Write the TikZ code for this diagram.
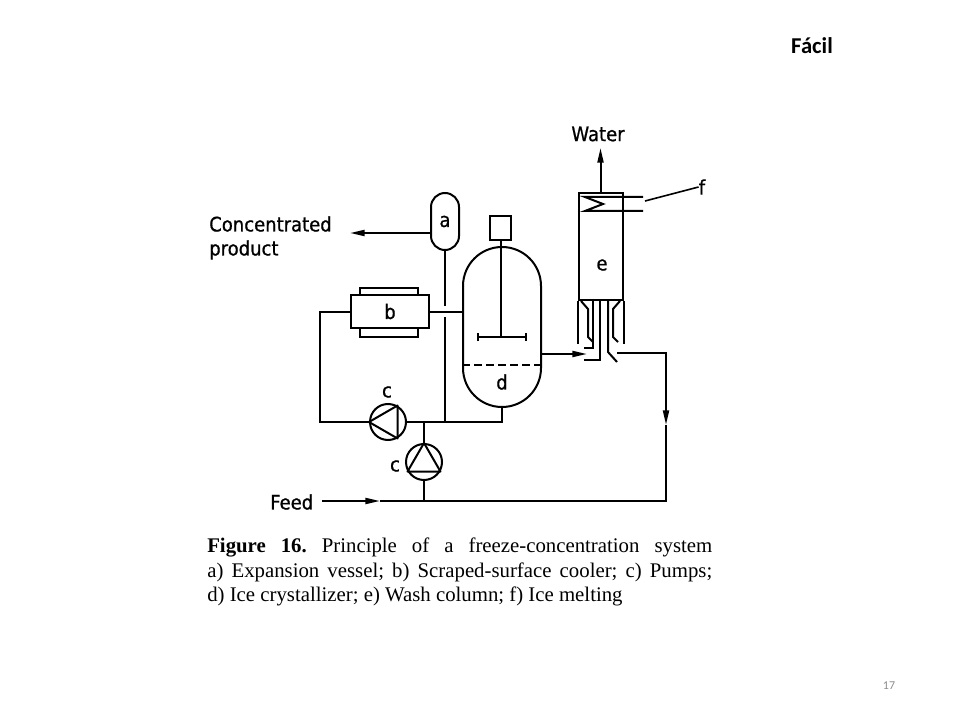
\documentclass[tikz,border=0pt]{standalone}
\usepackage{fontspec}
\setmainfont{Liberation Serif}
\newfontfamily\dinfont[FakeStretch=0.9,FakeBold=0.8]{DejaVu Sans}
\newfontfamily\calfont{Carlito}
\usepackage{tikz}
\usetikzlibrary{arrows.meta}
\usetikzlibrary{calc}
\tikzstyle{pipehead}=[>/.tip={Triangle[length=11pt,width=4.5pt]},|/.tip={Bar[width=6pt]}]
\tikzstyle{pipe}=[line width=1.5pt,pipehead]
\tikzstyle{vesselbox}=[draw,line width=1.5pt,inner sep=0pt]
\tikzstyle{pump}=[vesselbox,circle,minimum size=27pt]
\tikzstyle{lbl}=[font=\dinfont\fontsize{15}{18}\selectfont,inner sep=0pt]
\begin{document}
\begin{tikzpicture}[x=0.75pt,y=-0.75pt]
  \useasboundingbox (0,0) rectangle (960,720);
  \node[font=\calfont\bfseries\fontsize{17}{20}\selectfont] (title) at (812,46) {Fácil};
  \node[font=\calfont\fontsize{9}{11}\selectfont,text=black!45] (page) at (889,686) {17};
  % vessels
  \node[vesselbox,lbl,rounded corners=10.5pt,minimum width=21pt,minimum height=42.75pt] (expv) at (445,221.5) {a};
  \node[vesselbox,lbl,minimum width=58.5pt,minimum height=24.75pt] (cool) at (390,311.5) {b};
  \draw[pipe] (360,295) rectangle (418,288);
  \draw[pipe] (360,328) rectangle (418,337);
  \node[vesselbox,rounded corners=29.25pt,minimum width=58.5pt,minimum height=120pt] (cryst) at (502,327) {};
  \node[lbl] (lblD) at (502,382) {d};
  \draw[pipe,dash pattern=on 6pt off 3pt] ([yshift=-28.5pt]cryst.west) -- ([yshift=-28.5pt]cryst.east);
  \node[vesselbox,minimum width=15.75pt,minimum height=18pt] (motor) at (500.5,228) {};
  \draw[pipe] (motor.south) -- (500.5,337);
  \draw[pipe,|-|] (477,337) -- (527,337);
  \node[vesselbox,minimum width=33pt,minimum height=80.25pt] (wash) at (600.5,246.5) {};
  \node[lbl] (lblE) at (602,265) {e};
  \draw[pipe] (wash.south west) -- ++(0,43);
  \draw[pipe] (wash.south east) -- ++(0,43);
  \draw[pipe] (581,301) -- (588,309) -- (588,337) -- (593,342);
  \draw[pipe] (593,300) -- (593,348) -- (584,348);
  \draw[pipe] (600,300) -- (600,360) -- (584,360);
  \draw[pipe] (608,300) -- (608,352) -- (617,362);
  \draw[pipe] (620,301) -- (613,309) -- (613,337) -- (618,342);
  \draw[pipe] (643,197) -- (585,197) -- (603,204) -- (585,211) -- (643,211);
  \node[lbl] (lblF) at (702,187) {f};
  \draw[line width=1.2pt] (645,201) -- (lblF.west);
  % pumps
  \node[pump] (pumpR) at (388,422) {};
  \draw[pipe,line join=round] (pumpR.west) -- (pumpR.60) -- (pumpR.-60) -- cycle;
  \node[lbl] (lblC1) at (387,392) {c};
  \node[pump] (pumpF) at (424,462) {};
  \draw[pipe,line join=round] (pumpF.north) -- (pumpF.-30) -- (pumpF.-150) -- cycle;
  \node[lbl] (lblC2) at (395,466) {c};
  % texts
  \node[lbl,align=left,anchor=north west] (prod) at (209,216) {Concentrated\\product};
  \node[lbl] (water) at (598,134) {Water};
  \node[lbl,anchor=west] (feed) at (270,502) {Feed};
  % pipes
  \coordinate (prodTip) at (350,233);
  \draw[pipe,->] (expv.west |- prodTip) -- (prodTip);
  \draw[pipe,->] (wash.north) -- (600.5,148);
  \coordinate (jA) at (445,422);
  \draw[pipe] (expv.south) -- ([yshift=4pt]expv.south |- cool.east);
  \draw[pipe] ([yshift=-4pt]expv.south |- cool.east) -- (jA);
  \draw[pipe] (cool.east) -- (cool.east -| cryst.west);
  \coordinate (loopL) at (320,422);
  \draw[pipe] (cool.west) -| (loopL) -- (pumpR.west);
  \draw[pipe] (pumpR.east) -- (cryst.south |- pumpR.east) -- (cryst.south);
  \draw[pipe] (pumpF.north) -- (pumpF.north |- pumpR.east);
  \coordinate (washIn) at (587,354);
  \draw[pipe,->] (cryst.east |- washIn) -- (washIn);
  \coordinate (feedIn) at (322,501);
  \coordinate (feedMid) at (380,501);
  \draw[pipe,->] (feedIn) -- (feedMid);
  \draw[pipe] (feedMid) -- (pumpF.south |- feedMid) -- (pumpF.south);
  \coordinate (washOut) at (617,353);
  \coordinate (retMid) at (666,425);
  \draw[pipe,->] (washOut) -- (666,353) -- (retMid);
  \draw[pipe] (retMid) -- (666,501) -- (pumpF.south |- feedMid);
  % caption
  \node[anchor=north west,inner sep=0pt] (caption) at (207,538) {\parbox{378.75pt}{\fontsize{15.6}{18.4}\selectfont\frenchspacing
    \textbf{Figure 16.} Principle of a freeze-concentration system\linebreak
    a) Expansion vessel; b) Scraped-surface cooler; c) Pumps;\linebreak
    d) Ice crystallizer; e) Wash column; f) Ice melting}};
\end{tikzpicture}
\end{document}
